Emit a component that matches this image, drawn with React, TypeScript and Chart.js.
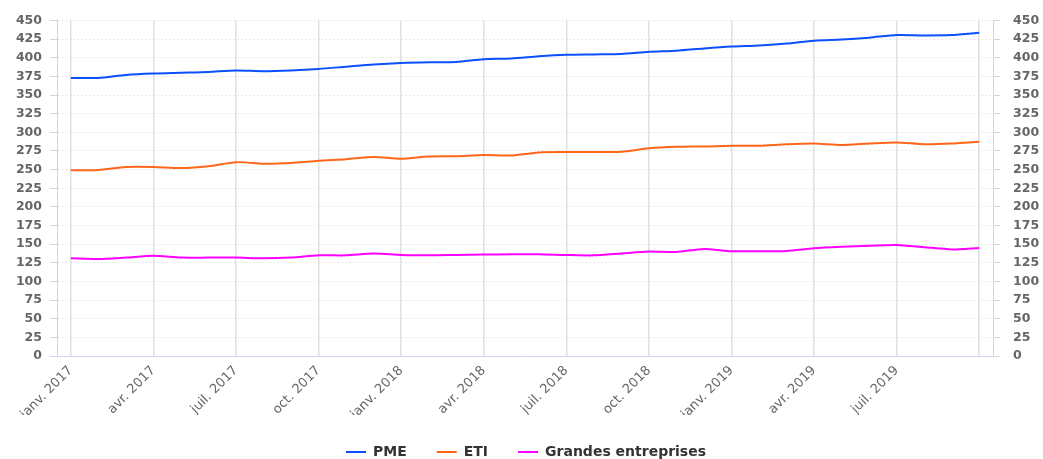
import React, { useEffect, useRef } from "react";
import { Chart, registerables } from "chart.js";

Chart.register(...registerables);

const categories = [
  "janv. 2017", "févr. 2017", "mars 2017", "avr. 2017", "mai 2017", "juin 2017",
  "juil. 2017", "août 2017", "sept. 2017", "oct. 2017", "nov. 2017", "déc. 2017",
  "janv. 2018", "févr. 2018", "mars 2018", "avr. 2018", "mai 2018", "juin 2018",
  "juil. 2018", "août 2018", "sept. 2018", "oct. 2018", "nov. 2018", "déc. 2018",
  "janv. 2019", "févr. 2019", "mars 2019", "avr. 2019", "mai 2019", "juin 2019",
  "juil. 2019", "août 2019", "sept. 2019", "oct. 2019",
];

const pme = [
  373, 373, 377, 379, 380, 381, 383, 382, 383, 385, 388, 391,
  393, 394, 394.5, 398, 399, 402, 404, 404.5, 405, 408, 409.5, 412.5,
  415, 416.5, 419, 423, 424.5, 427, 430.5, 430, 430.5, 433.5,
];

const eti = [
  249, 249.5, 253.5, 253.5, 252, 254.5, 260, 258, 259, 262, 264, 267,
  264.5, 267.5, 268, 269.5, 269, 273, 273.5, 273.5, 274, 278.5, 280.5, 281,
  282, 282, 284, 285, 283, 285, 286.5, 284, 285, 287.5,
];

const grandes = [
  131, 130, 132, 134.5, 132, 132, 132, 131, 132, 135, 135, 137.5,
  135.5, 135, 135.5, 136, 136.5, 136.5, 135.5, 135, 137.5, 140, 139.5, 143.5,
  140.5, 140.5, 141, 144.5, 146.5, 148, 149, 146, 143, 145,
];

const seriesNames = ["PME", "ETI", "Grandes entreprises"];
const seriesColors = ["#0a50ff", "#ff661a", "#ff00ff"];

const yMin = 0;
const yMax = 450;
const yStep = 25;

export default function App() {
  const ref = useRef<HTMLCanvasElement | null>(null);

  useEffect(() => {
    if (!ref.current) return;
    Chart.defaults.font.family = "'DejaVu Sans', Verdana, sans-serif";
    const tickFont = { size: 12.5, weight: "bold" as const };
    const chart = new Chart(ref.current, {
      type: "line",
      data: {
        labels: categories,
        datasets: [pme, eti, grandes].map((d, i) => ({
          label: seriesNames[i],
          data: d,
          borderColor: seriesColors[i],
          backgroundColor: seriesColors[i],
          borderWidth: 2,
          pointRadius: 0,
          tension: 0.25,
          yAxisID: "y",
        })),
      },
      options: {
        animation: false,
        responsive: true,
        maintainAspectRatio: false,
        layout: { padding: { top: 16, left: 9, right: 0, bottom: -10 } },
        plugins: {
          tooltip: { enabled: false },
          legend: {
            position: "bottom",
            labels: {
              usePointStyle: true,
              pointStyle: "line",
              pointStyleWidth: 20,
              padding: 30,
              color: "#333",
              font: { size: 14, weight: "bold" },
            },
          },
        },
        scales: {
          x: {
            offset: true,
            afterFit: (s: any) => {
              s.height = 59;
            },
            grid: { color: "#e0e0e0", lineWidth: 1.5, drawTicks: false },
            border: { color: "#ccd6eb", width: 1 },
            ticks: {
              autoSkip: false,
              minRotation: 45,
              maxRotation: 45,
              padding: 7,
              color: "#666",
              font: { size: 13 },
              callback: (_v: any, i: number) =>
                i % 3 === 0 ? (i === categories.length - 1 ? "" : categories[i]) : null,
            },
          },
          y: {
            position: "left",
            min: yMin,
            max: yMax,
            afterFit: (s: any) => {
              s.width = 48;
            },
            ticks: { stepSize: yStep, color: "#666", font: tickFont, padding: 8 },
            grid: {
              color: "#d6d6d6",
              tickColor: "#ccd6eb",
              tickLength: 7,
              tickBorderDash: [],
            },
            border: { color: "#ccd6eb", width: 1, dash: [1, 3] },
          },
          y1: {
            position: "right",
            min: yMin,
            max: yMax,
            afterFit: (s: any) => {
              s.width = 50;
            },
            ticks: { stepSize: yStep, color: "#666", font: tickFont, padding: 13 },
            grid: {
              drawOnChartArea: false,
              tickColor: "#ccd6eb",
              tickLength: 7,
            },
            border: { color: "#ccd6eb", width: 1 },
          },
        },
      },
    });
    return () => chart.destroy();
  }, []);

  return (
    <div style={{ position: "fixed", left: 0, top: 0, width: 1043, height: 459, background: "#fff" }}>
      <canvas ref={ref} />
    </div>
  );
}
